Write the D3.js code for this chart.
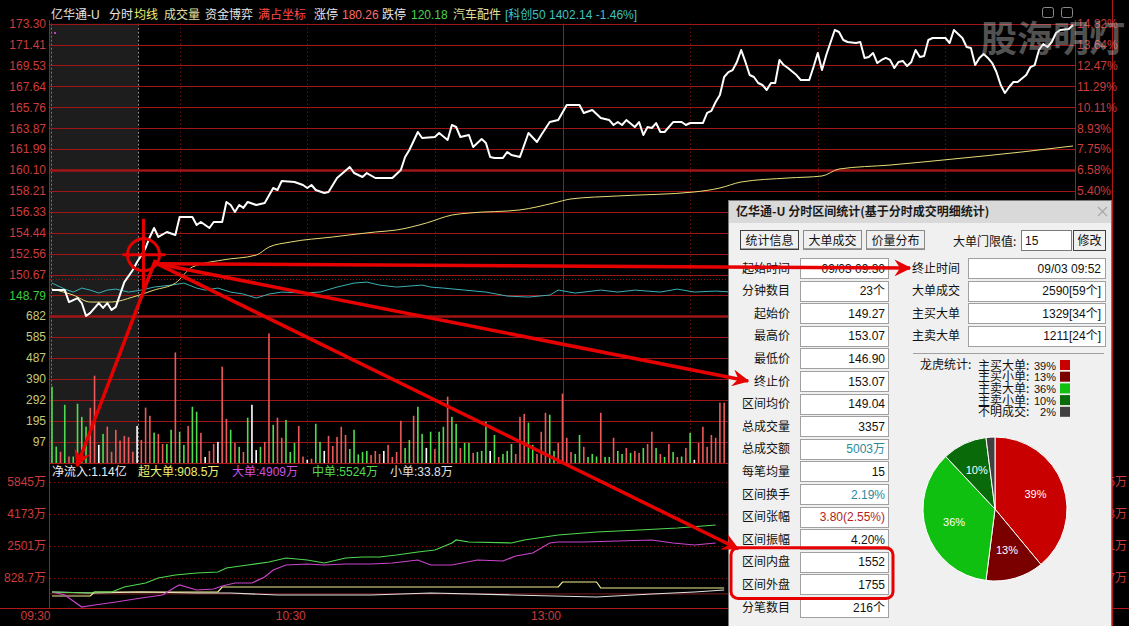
<!DOCTYPE html>
<head>
<meta charset="utf-8">
<script src="https://d3js.org/d3.v7.min.js"></script>
<style>
  body,html {margin:0; background:#000; overflow:hidden;}
  svg text {font-family:"Liberation Sans","Noto Sans CJK SC",sans-serif;}
</style>
</head>
<body>
<script>
const W = 1129, H = 626;

// ---- price panel ----
const priceTicks = [173.30,171.41,169.53,167.64,165.76,163.87,161.99,160.10,158.21,156.33,154.44,152.56,150.67,148.79];
// right-hand % labels that are not hidden by the dialog
const pctTicks = [173.30,171.41,169.53,167.64,165.76,163.87,161.99,160.10,158.21];
const pctLabels = ["14.82%","13.64%","12.47%","11.29%","10.11%","8.93%","7.75%","6.58%","5.40%"];
const prevClose = 150.22;
const pricePts = [[0,149.27],[3,149.27],[4,148.19],[6,148.55],[7,148.10],[8,146.93],[9,147.21],[11,148.10],[12,147.66],[13,148.10],[14,147.48],[15,147.75],[17,149.99],[19,151.08],[20,151.80],[21,152.40],[22,153.07],[23,154.06],[24,154.87],[25,154.06],[27,154.51],[29,154.24],[30,155.86],[33,155.86],[34,155.14],[35,155.41],[37,154.87],[38,155.41],[40,155.41],[41,157.22],[42,156.95],[43,156.32],[44,156.95],[45,156.68],[46,157.22],[48,156.95],[50,157.13],[52,158.48],[53,158.30],[54,159.11],[57,159.02],[59,158.75],[60,158.48],[61,158.75],[62,158.30],[64,158.03],[65,158.12],[67,159.38],[70,160.37],[71,159.83],[73,159.47],[74,159.83],[76,159.38],[80,159.38],[82,160.10],[83,161.28],[84,161.91],[86,163.53],[87,162.99],[90,163.08],[91,163.44],[93,162.81],[94,164.16],[95,163.98],[96,163.08],[98,163.26],[99,162.18],[101,162.90],[102,162.54],[103,161.28],[104,161.19],[106,161.19],[107,161.73],[108,161.46],[110,161.28],[111,162.36],[112,163.44],[114,162.63],[115,163.26],[117,164.43],[119,164.61],[121,165.97],[124,165.97],[125,165.25],[127,165.52],[129,164.79],[131,164.61],[132,164.16],[133,164.43],[134,164.16],[135,164.61],[137,163.98],[138,164.43],[139,163.26],[140,163.98],[141,163.89],[142,164.34],[143,163.53],[144,163.53],[146,164.43],[148,164.43],[149,164.16],[150,164.34],[153,164.34],[154,165.25],[155,165.43],[156,166.24],[157,166.87],[158,168.49],[159,168.94],[160,169.12],[161,169.85],[162,170.93],[163,169.85],[164,168.67],[165,168.49],[166,167.95],[167,167.77],[168,167.32],[169,167.95],[170,167.95],[171,170.03],[172,169.57],[173,169.30],[175,168.67],[176,168.22],[178,168.22],[179,169.39],[180,170.66],[181,169.12],[182,170.48],[184,172.73],[185,172.55],[186,171.83],[187,171.65],[189,171.56],[190,171.65],[191,170.21],[192,170.30],[193,170.66],[194,169.75],[195,170.03],[196,170.21],[197,170.03],[198,169.30],[199,169.85],[200,169.94],[201,169.48],[202,169.85],[203,170.93],[204,170.30],[205,170.39],[206,171.83],[207,172.01],[209,172.01],[210,172.01],[211,171.56],[212,172.73],[214,172.01],[215,171.20],[216,171.11],[217,169.57],[218,170.21],[219,170.57],[220,170.21],[221,169.75],[222,168.94],[223,167.77],[224,167.05],[225,167.59],[226,168.04],[227,168.04],[229,168.67],[230,169.39],[231,169.57],[232,170.93],[233,171.47],[234,171.20],[235,171.65],[236,172.46],[237,172.73],[239,172.82],[240,173.18]];
const avgPts = [[0,149.36],[5,148.82],[9,148.19],[14,148.19],[19,148.64],[24,149.27],[29,149.90],[33,151.35],[40,151.98],[48,152.43],[51,153.15],[56,153.60],[66,154.06],[76,154.51],[81,154.69],[88,155.32],[94,156.04],[98,156.22],[110,156.50],[118,157.13],[122,157.49],[133,157.76],[151,158.12],[157,158.48],[162,159.02],[173,159.38],[181,159.56],[185,160.19],[197,160.55],[212,161.10],[228,161.73],[236,162.09],[240,162.27]];
const indexPts = [[0,149.90],[3,149.36],[5,149.09],[7,149.45],[9,149.27],[11,149.00],[13,149.27],[15,149.36],[18,149.09],[21,149.27],[24,149.54],[28,149.72],[31,149.90],[34,149.45],[36,149.27],[39,149.45],[42,149.09],[45,148.91],[48,148.55],[51,148.91],[54,149.09],[59,149.00],[63,149.09],[67,149.54],[71,149.90],[74,149.99],[77,149.72],[81,149.54],[87,149.72],[89,149.54],[92,149.45],[97,149.27],[102,149.09],[107,148.73],[112,148.64],[117,148.82],[119,149.27],[123,149.00],[129,149.27],[133,149.09],[137,149.27],[143,149.09],[147,149.36],[151,149.09],[156,149.18],[160,149.09]];

// ---- volume panel ----
const volTicks = [682,585,487,390,292,195,97];
const volumes = [354,76,52,270,30,30,275,214,169,256,405,84,135,169,52,154,104,126,120,52,172,107,257,219,141,
  135,88,88,154,513,145,84,172,261,238,140,28,56,88,98,447,205,154,93,75,51,210,270,60,75,
  98,601,177,210,117,200,51,93,172,30,15,20,182,98,56,126,79,121,168,130,65,154,40,51,56,
  37,56,42,56,84,28,51,196,70,107,219,261,135,70,145,65,145,168,308,214,182,70,93,93,47,
  51,56,191,56,130,28,42,56,88,42,214,228,187,84,42,145,233,224,56,93,322,117,51,42,130,
  75,28,42,30,233,28,28,117,56,42,70,47,56,47,70,88,145,70,42,28,88,51,28,30,70,
  140,15,93,168,75,130,117,280,280];
const volDir = ("ggrgrggggrrwgrrrrrrrwrrrg" + "rrggrggrggrwrrwrrgrgrgwwg" + "rrgrrgggrrwrggwrrrrrggggg" +
  "rrrwrrrrggrggwgrggrggrggr" + "gggwgrgggrrrggrrrggrrrrgg" + "rgggrggrggrgrrgrrgrgrgrgr" + "gwrrrrrrr").split("");

// ---- fund flow panel ----
const fundTicks = [5845,4173,2501,828.7];
const fundLabels = ["5845万","4173万","2501万","828.7万"];
const midPts = [[0,99],[9,47],[10,99],[14,99],[17,361],[22,570],[25,831],[29,988],[34,1092],[39,1144],[41,1353],[46,1510],[51,1667],[55,1876],[60,1771],[64,1615],[69,1876],[73,1928],[77,1928],[81,2032],[86,2189],[90,2293],[94,2659],[95,2816],[98,2712],[108,2659],[111,2816],[119,3077],[128,3234],[138,3339],[147,3443],[156,3600]];
const bigPts = [[0,99],[3,-57],[7,-684],[10,-580],[15,-423],[21,-214],[26,-57],[29,361],[30,465],[34,204],[38,256],[40,413],[43,570],[47,570],[50,883],[52,1249],[55,1510],[60,1562],[64,1510],[69,1562],[75,1562],[80,1615],[86,1771],[89,1510],[94,1510],[100,1771],[106,1719],[109,1980],[113,2137],[117,2659],[119,2712],[125,2712],[133,2764],[141,2816],[146,2659],[151,2555],[156,2659]];
const superPts = [[0,-110],[9,-110],[10,99],[39,99],[40,361],[119,361],[120,622],[128,622],[129,308],[158,308]];
const smallPts = [[0,99],[10,47],[21,99],[34,47],[42,47],[53,-57],[75,-57],[89,47],[108,-57],[128,-162],[141,-5],[151,99],[158,204]];

const timeTicks = [0,60,120];
const timeLabels = ["09:30","10:30","13:00"];

// ---- header / legend texts ----
const header = [["亿华通-U","#e6e6e6",51],["分时","#e6e6e6",109],["均线","#f0f070",134],["成交量","#e0e0a0",164],["资金博弈","#e6e6e6",205],["满占坐标","#ff4a4a",258],["涨停","#e6e6e6",314],["180.26","#ff6a6a",342],["跌停","#e6e6e6",382],["120.18","#4cd04c",411],["汽车配件","#e0e0a0",453],["[科创50 1402.14 -1.46%]","#3cc0c0",505]];
const flowHeader = [["净流入:1.14亿","#f0f0f0",52],["超大单:908.5万","#f0f070",138],["大单:4909万","#d050e0",232],["中单:5524万","#50dc50",312],["小单:33.8万","#e0e0e0",390]];

// ---- dialog ----
const leftRows = ["起始时间","分钟数目","起始价","最高价","最低价","终止价","区间均价","总成交量","总成交额","每笔均量","区间换手","区间张幅","区间振幅","区间内盘","区间外盘","分笔数目"];
const leftVals = ["09/03 09:30","23个","149.27","153.07","146.90","153.07","149.04","3357","5003万","15","2.19%","3.80(2.55%)","4.20%","1552","1755","216个"];
const leftValColors = {8:"#2a8a9a",10:"#2a8a9a",11:"#b41e1e"};
const rightRows = ["终止时间","大单成交","主买大单","主卖大单"];
const rightVals = ["09/03 09:52","2590[59个]","1329[34个]","1211[24个]"];
const tabs = ["统计信息","大单成交","价量分布"];
const pieNames = ["主买大单","主买小单","主卖大单","主卖小单","不明成交"];
const piePct = [39,13,36,10,2];
const pieColors = ["#c80000","#7a0000","#10c010","#086a08","#404040"];

// ================= drawing =================
const svg = d3.select("body").append("svg").attr("width", W).attr("height", H).style("background", "#000");
const L = 50, R = 1075;
const x = d3.scaleLinear().domain([0, 240]).range([52, 1073]);
const yP = d3.scaleLinear().domain([148.79, 173.30]).range([295.4, 23.7]);
const yV = d3.scaleLinear().domain([0, 682]).range([463, 316]);
const yF = d3.scaleLinear().domain([0, 5845]).range([593.9, 482]);
const GRID = "#a01616";

// selected interval shade
svg.append("rect").attr("x", L).attr("y", yP(173.30)).attr("width", x(20) + 1 - L)
  .attr("height", yV(0) - yP(173.30)).attr("fill", "#1d1d1d");
svg.append("line").attr("x1", x(20) + 1.5).attr("x2", x(20) + 1.5).attr("y1", yP(173.30)).attr("y2", yV(0))
  .attr("stroke", "#9a9a9a").attr("stroke-dasharray", "2,2");
svg.append("line").attr("x1", L + 1.5).attr("x2", L + 1.5).attr("y1", yP(173.30)).attr("y2", yV(0))
  .attr("stroke", "#777").attr("stroke-dasharray", "2,2");

// horizontal grid
const g = svg.append("g");
g.selectAll(".hp").data(priceTicks).join("line")
  .attr("x1", L).attr("x2", R).attr("y1", d => Math.round(yP(d)) + 0.5).attr("y2", d => Math.round(yP(d)) + 0.5)
  .attr("stroke", GRID).attr("stroke-width", d => d === 160.10 ? 2.5 : 1);
g.selectAll(".hv").data(volTicks).join("line")
  .attr("x1", L).attr("x2", R).attr("y1", d => Math.round(yV(d)) + 0.5).attr("y2", d => Math.round(yV(d)) + 0.5)
  .attr("stroke", GRID).attr("stroke-width", d => d === 682 ? 2.5 : 1);
g.append("line").attr("x1", L).attr("x2", R).attr("y1", yP(prevClose)).attr("y2", yP(prevClose))
  .attr("stroke", GRID).attr("stroke-dasharray", "1,2");
g.append("line").attr("x1", L).attr("x2", R).attr("y1", yV(0) + 0.5).attr("y2", yV(0) + 0.5).attr("stroke", "#b01818");
g.selectAll(".hf").data(fundTicks).join("line")
  .attr("x1", L).attr("x2", R).attr("y1", d => Math.round(yF(d)) + 0.5).attr("y2", d => Math.round(yF(d)) + 0.5)
  .attr("stroke", "#8a1414").attr("stroke-dasharray", "1,3");
g.append("line").attr("x1", L).attr("x2", R).attr("y1", yF(0)).attr("y2", yF(0)).attr("stroke", "#7a2020");
// vertical grid
g.selectAll(".vg").data([30, 60, 90, 120, 150, 180, 210]).join("line")
  .attr("x1", d => Math.round(x(d)) + 0.5).attr("x2", d => Math.round(x(d)) + 0.5)
  .attr("y1", yP(173.30)).attr("y2", yV(0))
  .attr("stroke", GRID).attr("stroke-dasharray", d => d === 120 ? null : "1,3");
// borders
g.append("line").attr("x1", L - 0.5).attr("x2", L - 0.5).attr("y1", 20).attr("y2", 608).attr("stroke", "#b01818");
g.append("line").attr("x1", R + 0.5).attr("x2", R + 0.5).attr("y1", 20).attr("y2", 608).attr("stroke", "#b01818");
g.append("line").attr("x1", 1112.5).attr("x2", 1112.5).attr("y1", 0).attr("y2", H).attr("stroke", "#b01818");
g.append("line").attr("x1", 0).attr("x2", W).attr("y1", 608.5).attr("y2", 608.5).attr("stroke", "#b01818");

// axes
function styleAxis(sel, color) {
  sel.select(".domain").remove();
  sel.selectAll(".tick line").remove();
  sel.attr("font-family", "Liberation Sans, Noto Sans CJK SC, sans-serif").attr("font-size", 12);
  sel.selectAll("text").attr("fill", color);
}
svg.append("g").attr("transform", `translate(${L - 4},0)`)
  .call(d3.axisLeft(yP).tickValues(priceTicks).tickSize(0).tickPadding(0).tickFormat(d3.format(".2f")))
  .call(s => styleAxis(s, "#cc3c3c"))
  .selectAll("text").attr("fill", d => d < prevClose ? "#3ccc3c" : "#cc3c3c");
svg.append("g").attr("transform", `translate(${R + 2},0)`)
  .call(d3.axisRight(yP).tickValues(pctTicks).tickSize(0).tickPadding(0).tickFormat((d, i) => pctLabels[i]))
  .call(s => styleAxis(s, "#cc3c3c"));
svg.append("g").attr("transform", `translate(${L - 4},0)`)
  .call(d3.axisLeft(yV).tickValues(volTicks).tickSize(0).tickPadding(0).tickFormat(d3.format("d")))
  .call(s => styleAxis(s, "#c8c878"));
svg.append("g").attr("transform", `translate(${L - 4},0)`)
  .call(d3.axisLeft(yF).tickValues(fundTicks).tickSize(0).tickPadding(0).tickFormat((d, i) => fundLabels[i]))
  .call(s => styleAxis(s, "#cc3c3c"));
svg.append("g").attr("transform", `translate(1127,0)`)
  .call(d3.axisLeft(yF).tickValues(fundTicks).tickSize(0).tickPadding(0).tickFormat((d, i) => fundLabels[i]))
  .call(s => styleAxis(s, "#cc3c3c"));
svg.append("g").attr("transform", `translate(-2,608)`)
  .call(d3.axisBottom(x).tickValues(timeTicks).tickSize(0).tickPadding(3).tickFormat((d, i) => timeLabels[i]))
  .call(s => styleAxis(s, "#cc3c3c"))
  .selectAll("text").attr("text-anchor", "end");

// volume bars
const volColor = {r: "#ea5a5a", g: "#50dc50", w: "#ffffff"};
svg.append("g").selectAll("rect").data(volumes).join("rect")
  .attr("x", (d, i) => x(i) - 0.8).attr("width", 1.6)
  .attr("y", d => yV(d)).attr("height", d => yV(0) - yV(d))
  .attr("fill", (d, i) => volColor[volDir[i]]);

// price lines
const line = d3.line().x(d => x(d[0])).y(d => yP(d[1]));
svg.append("path").datum(indexPts).attr("d", line).attr("fill", "none").attr("stroke", "#3cb0b4").attr("stroke-width", 1);
svg.append("path").datum(avgPts).attr("d", line.curve(d3.curveMonotoneX)).attr("fill", "none").attr("stroke", "#e8dc78").attr("stroke-width", 1);
svg.append("path").datum(pricePts).attr("d", d3.line().x(d => x(d[0])).y(d => yP(d[1]))).attr("fill", "none")
  .attr("stroke", "#ffffff").attr("stroke-width", 2).attr("stroke-linejoin", "round");
svg.append("rect").attr("x", 54).attr("y", 32).attr("width", 2).attr("height", 2).attr("fill", "#c040c0");

// fund flow lines
const fline = d3.line().x(d => x(d[0])).y(d => yF(d[1]));
[[smallPts, "#e0e0e0"], [superPts, "#f4f090"], [bigPts, "#cc44cc"], [midPts, "#50d850"]].forEach(([pts, c]) => {
  svg.append("path").datum(pts).attr("d", fline).attr("fill", "none").attr("stroke", c).attr("stroke-width", 1.2);
});

// header texts
svg.append("g").selectAll("text").data(header).join("text")
  .attr("x", d => d[2]).attr("y", 19).attr("font-size", 12).attr("fill", d => d[1]).text(d => d[0]);
svg.append("g").selectAll("text").data(flowHeader).join("text")
  .attr("x", d => d[2]).attr("y", 476).attr("font-size", 12).attr("fill", d => d[1]).text(d => d[0]);

// top-right icons + watermark
svg.append("rect").attr("x", 1042.5).attr("y", 7.5).attr("width", 11).attr("height", 10).attr("rx", 2).attr("fill", "none").attr("stroke", "#8a8a8a");
svg.append("rect").attr("x", 1061.5).attr("y", 7.5).attr("width", 11).attr("height", 10).attr("rx", 2).attr("fill", "none").attr("stroke", "#8a8a8a");
svg.append("text").attr("x", 981).attr("y", 52).attr("font-size", 36).attr("font-weight", "bold")
  .attr("fill", "rgba(200,200,200,0.42)").style("font-family", "Noto Sans CJK SC").text("股海明灯");

// ================= dialog =================
const dX = 728, dY = 200;
const rowY = i => 268 + i * 22.6;
const dlg = svg.append("g");
dlg.append("rect").attr("x", dX + 0.5).attr("y", dY + 0.5).attr("width", 383).attr("height", 440).attr("fill", "#f0f0f0").attr("stroke", "#7a7a7a");
dlg.append("rect").attr("x", dX + 1).attr("y", dY + 1).attr("width", 382).attr("height", 22).attr("fill", "#d9d9d9");
dlg.append("text").attr("x", dX + 8).attr("y", dY + 16).attr("font-size", 12).attr("font-weight", "bold").attr("fill", "#1a1a1a")
  .style("font-family", "Noto Sans CJK SC").text("亿华通-U 分时区间统计(基于分时成交明细统计)");
dlg.append("path").attr("d", "M1098,207 L1107,216 M1107,207 L1098,216").attr("stroke", "#a8a8a8").attr("stroke-width", 1.2);

tabs.forEach((t, i) => {
  const tx = 740 + i * 63;
  dlg.append("rect").attr("x", tx + 0.5).attr("y", 230.5).attr("width", 58).attr("height", 19)
    .attr("fill", "#f0f0f0").attr("stroke", i === 0 ? "#404040" : "#8a8a8a");
  dlg.append("line").attr("x1", tx + 1).attr("x2", tx + 58).attr("y1", 248.5).attr("y2", 248.5).attr("stroke", "#a0a0a0");
  dlg.append("text").attr("x", tx + 29.5).attr("y", 245).attr("text-anchor", "middle").attr("font-size", 12).attr("fill", "#111")
    .style("font-family", "Noto Sans CJK SC").text(t);
});
dlg.append("text").attr("x", 953).attr("y", 246).attr("font-size", 12).attr("fill", "#111").style("font-family", "Noto Sans CJK SC").text("大单门限值:");
dlg.append("rect").attr("x", 1021.5).attr("y", 230.5).attr("width", 50).attr("height", 20).attr("fill", "#fff").attr("stroke", "#7a7a7a");
dlg.append("text").attr("x", 1025).attr("y", 245).attr("font-size", 12).attr("fill", "#111").text("15");
dlg.append("rect").attr("x", 1073.5).attr("y", 230.5).attr("width", 32).attr("height", 20).attr("fill", "#f0f0f0").attr("stroke", "#404040");
dlg.append("text").attr("x", 1089.5).attr("y", 245).attr("text-anchor", "middle").attr("font-size", 12).attr("fill", "#111")
  .style("font-family", "Noto Sans CJK SC").text("修改");

leftRows.forEach((lab, i) => {
  const y = rowY(i);
  dlg.append("text").attr("x", 790).attr("y", y + 4.5).attr("text-anchor", "end").attr("font-size", 12).attr("fill", "#111")
    .style("font-family", "Noto Sans CJK SC").text(lab);
  dlg.append("rect").attr("x", 800.5).attr("y", Math.round(y - 10) + 0.5).attr("width", 88).attr("height", 20).attr("fill", "#fff").attr("stroke", "#a0a0a0");
  dlg.append("text").attr("x", 885).attr("y", y + 4.5).attr("text-anchor", "end").attr("font-size", 12)
    .attr("fill", leftValColors[i] || "#111").text(leftVals[i]);
});
rightRows.forEach((lab, i) => {
  const y = rowY(i);
  dlg.append("text").attr("x", 912).attr("y", y + 4.5).attr("font-size", 12).attr("fill", "#111")
    .style("font-family", "Noto Sans CJK SC").text(lab);
  dlg.append("rect").attr("x", 968.5).attr("y", Math.round(y - 10) + 0.5).attr("width", 137).attr("height", 20).attr("fill", "#fff").attr("stroke", "#a0a0a0");
  dlg.append("text").attr("x", 1101).attr("y", y + 4.5).attr("text-anchor", "end").attr("font-size", 12).attr("fill", "#111").text(rightVals[i]);
});
dlg.append("line").attr("x1", 913).attr("x2", 1104).attr("y1", 353.5).attr("y2", 353.5).attr("stroke", "#a0a0a0");

// 龙虎统计 legend
dlg.append("text").attr("x", 920).attr("y", 369).attr("font-size", 12).attr("fill", "#111")
  .style("font-family", "Noto Sans CJK SC").text("龙虎统计:");
pieNames.forEach((n, i) => {
  const y = 365 + i * 11.7;
  dlg.append("text").attr("x", 978).attr("y", y + 4.5).attr("font-size", 12).attr("fill", "#111")
    .style("font-family", "Noto Sans CJK SC").text(n + ":");
  dlg.append("text").attr("x", 1056).attr("y", y + 4.5).attr("text-anchor", "end").attr("font-size", 11).attr("fill", "#111").text(piePct[i] + "%");
  dlg.append("rect").attr("x", 1060).attr("y", y - 5).attr("width", 10).attr("height", 10).attr("fill", pieColors[i]);
});

// pie
const pie = d3.pie().sort(null).value(d => d);
const arc = d3.arc().innerRadius(0).outerRadius(72);
const labelArc = d3.arc().innerRadius(43).outerRadius(43);
const pg = dlg.append("g").attr("transform", "translate(995,509)");
pg.selectAll("path").data(pie(piePct)).join("path").attr("d", arc)
  .attr("fill", (d, i) => pieColors[i]).attr("stroke", "#fff").attr("stroke-width", 1);
pg.selectAll("text").data(pie(piePct).filter(d => d.data >= 10)).join("text")
  .attr("transform", d => `translate(${labelArc.centroid(d)})`).attr("dy", "0.35em")
  .attr("text-anchor", "middle").attr("font-size", 11).attr("fill", "#fff").text(d => d.data + "%");

// ================= annotations =================
const red = "#e60000";
const defs = svg.append("defs");
defs.append("marker").attr("id", "ah").attr("viewBox", "0 0 12 12").attr("refX", 11).attr("refY", 6)
  .attr("markerWidth", 17).attr("markerHeight", 17).attr("markerUnits", "userSpaceOnUse").attr("orient", "auto")
  .append("path").attr("d", "M0,0 L12,6 L0,12 L4,6 Z").attr("fill", red);

const cx = x(21.5), cy = yP(152.45);
const ann = svg.append("g").attr("stroke", red).attr("fill", "none");
ann.append("circle").attr("cx", cx).attr("cy", cy).attr("r", 16).attr("stroke-width", 3);
ann.append("line").attr("x1", cx).attr("x2", cx).attr("y1", cy - 36).attr("y2", cy + 34).attr("stroke-width", 3);
ann.append("line").attr("x1", cx - 21).attr("x2", cx + 22).attr("y1", cy).attr("y2", cy).attr("stroke-width", 3);
const ox = cx + 14, oy = cy + 9;
const targets = [[910, rowY(0)], [748, rowY(5)], [738, rowY(13) - 13], [77, 466]];
targets.forEach(([tx, ty], i) => {
  ann.append("line").attr("x1", i === 3 ? cx + 12 : ox).attr("y1", i === 3 ? cy + 5 : oy)
    .attr("x2", tx).attr("y2", ty).attr("stroke-width", 3.5).attr("marker-end", "url(#ah)");
});
ann.append("rect").attr("x", 731).attr("y", rowY(13) - 14).attr("width", 162).attr("height", rowY(14) - rowY(13) + 28)
  .attr("rx", 7).attr("stroke-width", 3);
</script>
</body>
